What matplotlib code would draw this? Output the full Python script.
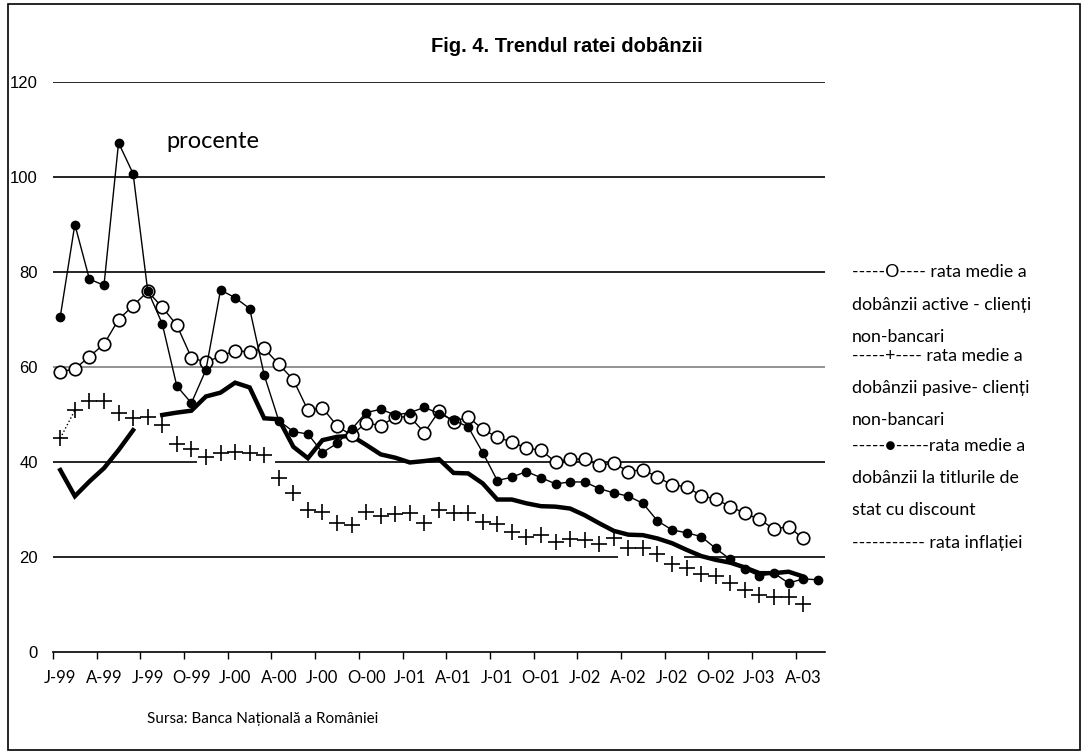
import numpy as np
import matplotlib
matplotlib.use("Agg")
import matplotlib.pyplot as plt
from matplotlib.patches import Rectangle

# Monthly data, Jan 1999 - May 2003 (percent)
tick_labels = ["J-99", "A-99", "J-99", "O-99", "J-00", "A-00", "J-00", "O-00", "J-01",
               "A-01", "J-01", "O-01", "J-02", "A-02", "J-02", "O-02", "J-03", "A-03"]

# rata medie a dobanzii active - clienti non-bancari (open circles)
active = [59.0, 59.6, 62.2, 64.8, 70.0, 72.9, 75.9, 72.6, 68.8, 62.0, 61.0, 62.3,
          63.4, 63.2, 63.9, 60.6, 57.3, 50.9, 51.4, 47.6, 45.6, 48.3, 47.6, 49.5,
          49.5, 46.2, 50.7, 48.5, 49.5, 46.9, 45.2, 44.2, 42.9, 42.5, 40.0, 40.6,
          40.6, 39.3, 39.8, 38.0, 38.4, 36.8, 35.2, 34.8, 32.9, 32.2, 30.6, 29.2,
          27.9, 25.9, 26.4, 23.9]

# rata medie a dobanzii pasive - clienti non-bancari (plus)
passive = [45.0, 50.9, 52.8, 52.8, 50.4, 49.3, 49.5, 47.8, 43.7, 42.7, 41.1, 42.0,
           42.2, 41.9, 41.4, 36.7, 33.4, 29.9, 29.4, 27.2, 26.7, 29.5, 28.6, 29.0,
           29.2, 27.1, 29.9, 29.2, 29.2, 27.4, 26.9, 25.3, 24.3, 24.6, 23.2, 23.7,
           23.6, 22.7, 23.9, 21.8, 21.8, 20.6, 18.5, 17.7, 16.4, 15.9, 14.6, 13.1,
           12.1, 11.6, 11.6, 10.2]

# rata medie a dobanzii la titlurile de stat cu discount (filled dots)
tbill = [70.6, 90.0, 78.5, 77.2, 107.2, 100.7, 76.1, 69.1, 56.0, 52.4, 59.4, 76.2,
         74.6, 72.3, 58.3, 48.7, 46.4, 45.9, 42.0, 43.9, 46.9, 50.4, 51.1, 49.9,
         50.4, 51.5, 50.2, 48.8, 47.4, 42.0, 36.1, 36.8, 38.0, 36.7, 35.4, 35.8,
         35.8, 34.4, 33.5, 32.8, 31.3, 27.6, 25.7, 25.1, 24.3, 21.8, 19.5, 17.4,
         16.0, 16.6, 14.5, 15.4, 15.2]

# rata inflatiei (thick line), gap in the original at Jul-99
inflation = [38.3, 32.8, 35.9, 38.7, 42.5, 46.7, np.nan, 49.9, 50.4, 50.8, 53.8, 54.6,
             56.7, 55.7, 49.2, 49.0, 43.2, 40.8, 44.6, 45.3, 45.5, 43.6, 41.6, 40.9,
             39.9, 40.2, 40.6, 37.7, 37.6, 35.5, 32.1, 32.1, 31.3, 30.7, 30.6, 30.2,
             28.8, 27.1, 25.5, 24.7, 24.6, 23.9, 22.9, 21.5, 20.2, 19.4, 18.8, 17.8,
             16.6, 16.6, 16.9, 15.9]

legend_lines = ["-----O---- rata medie a", "dobânzii active - clienți", "non-bancari",
                "-----+---- rata medie a", "dobânzii pasive- clienți", "non-bancari",
                "-----●-----rata medie a", "dobânzii la titlurile de", "stat cu discount",
                "----------- rata inflației"]
legend_y = [272, 305, 337, 356, 388, 420, 446, 478, 510, 543]

fig = plt.figure(figsize=(10.84, 7.54), dpi=100)
ax = fig.add_axes([53 / 1084, 1 - 652 / 754, 772 / 1084, 570 / 754])

# gridlines (some are interrupted in the original)
grid_segments = {20: [(-0.5, 38.3), (42.8, 52.5)], 40: [(-0.5, 9.4), (14.76, 52.5)],
                 60: [(-0.5, 52.5)], 80: [(-0.5, 52.5)], 100: [(-0.5, 52.5)],
                 120: [(-0.5, 52.5)]}
for yv, segs in grid_segments.items():
    col = "#808080" if yv == 60 else "black"
    for a, b in segs:
        ax.hlines(yv, a, b, color=col, lw=1.2, zorder=0)

xa = np.arange(len(active))
xp = np.arange(len(passive))
xt = np.arange(len(tbill))
xi = np.arange(len(inflation))

ax.plot(xi, inflation, color="black", lw=3.2, solid_joinstyle="miter", zorder=2)
ax.plot(xa, active, color="black", lw=1, marker="o", ms=9, mfc="white",
        mec="black", mew=1.2, zorder=3)
ax.plot(xt, tbill, color="black", lw=1, marker="o", ms=6, mfc="black",
        mec="black", zorder=4)
ax.plot(xp[:2], passive[:2], color="black", lw=1, ls=":", zorder=3)
ax.plot(xp, passive, ls="none", marker="+", ms=12, mew=1.2, color="black", zorder=3)

ax.set_xlim(-0.5, 52.5)
ax.set_ylim(0, 120)

for s in ["top", "right", "left"]:
    ax.spines[s].set_visible(False)
ax.spines["bottom"].set_linewidth(1.2)

ax.set_yticks(range(0, 121, 20))
ax.tick_params(axis="y", length=0, pad=11, labelsize=12)
for lab in ax.get_yticklabels():
    lab.set_fontfamily("Liberation Sans")

ax.set_xticks(np.arange(-0.5, 51, 3))
ax.set_xticklabels([])
ax.tick_params(axis="x", which="major", direction="out", length=5, width=1)
ax.set_xticks(np.arange(0, 52, 3), minor=True)
ax.set_xticklabels(tick_labels, minor=True, fontfamily="Lato", fontsize=12)
ax.tick_params(axis="x", which="minor", length=0, pad=13)

fig.text(567 / 1084, 1 - 47 / 754, "Fig. 4. Trendul ratei dobânzii", ha="center",
         va="center", fontsize=14.5, fontweight="bold", family="Liberation Sans")
ax.text(0.207, 0.895, "procente", transform=ax.transAxes, ha="center", va="center",
        fontsize=17, family="Lato")
fig.text(147 / 1084, 1 - 719 / 754, "Sursa: Banca Națională a României", ha="left",
         va="center", fontsize=11, family=["Lato", "DejaVu Sans"])

for line, yp in zip(legend_lines, legend_y):
    fig.text(852 / 1084, 1 - yp / 754, line, ha="left", va="center",
             fontsize=12.8, family=["Lato", "DejaVu Sans"])

fig.patches.append(Rectangle((8 / 1084, 4 / 754), 1072 / 1084, 746 / 754,
                             transform=fig.transFigure, fill=False, ec="black", lw=1.2))

fig.savefig("out.png", dpi=100)
